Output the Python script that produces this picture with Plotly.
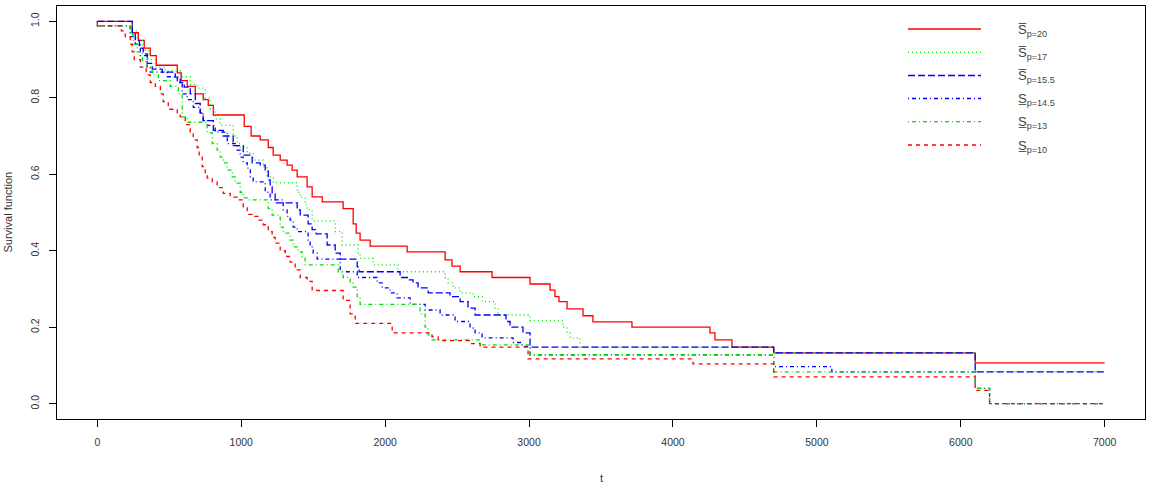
import plotly.graph_objects as go

# ---- data (time t, survival value after step) ----
t_p20 = [0, 243, 285, 326, 368, 410, 556, 583, 625, 681, 736, 771, 806, 1021, 1069, 1132, 1188, 1222, 1271, 1319, 1354, 1389, 1458, 1493, 1563, 1708, 1778, 1799, 1826, 1896, 2153, 2417, 2465, 2521, 2743, 3007, 3146, 3180, 3208, 3264, 3375, 3444, 3715, 4257, 4292, 4410, 4700, 6100, 7000]
s_p20 = [1.0, 0.97, 0.95, 0.93, 0.91, 0.885, 0.865, 0.845, 0.83, 0.81, 0.795, 0.78, 0.755, 0.725, 0.70, 0.69, 0.67, 0.65, 0.637, 0.624, 0.611, 0.593, 0.567, 0.541, 0.528, 0.51, 0.47, 0.446, 0.428, 0.412, 0.397, 0.376, 0.36, 0.345, 0.33, 0.313, 0.297, 0.28, 0.267, 0.248, 0.23, 0.214, 0.2, 0.185, 0.167, 0.148, 0.133, 0.107, 0.107]

t_p17 = [0, 243, 278, 313, 354, 403, 472, 576, 646, 694, 750, 785, 819, 854, 944, 972, 993, 1042, 1083, 1153, 1181, 1222, 1389, 1410, 1444, 1458, 1493, 1653, 1701, 1813, 1826, 1917, 2090, 2417, 2438, 2472, 2521, 2611, 2674, 2764, 2785, 3007, 3236, 3264, 3285, 3354, 4700, 6100, 7000]
s_p17 = [1.0, 0.975, 0.95, 0.925, 0.90, 0.88, 0.87, 0.855, 0.835, 0.825, 0.80, 0.77, 0.745, 0.728, 0.70, 0.68, 0.671, 0.655, 0.637, 0.619, 0.593, 0.578, 0.553, 0.54, 0.52, 0.507, 0.478, 0.45, 0.415, 0.394, 0.38, 0.363, 0.345, 0.33, 0.316, 0.303, 0.29, 0.28, 0.267, 0.25, 0.232, 0.217, 0.2, 0.185, 0.172, 0.148, 0.133, 0.083, 0.083]

t_p155 = [0, 243, 264, 292, 319, 347, 382, 451, 542, 576, 604, 646, 681, 715, 736, 806, 875, 944, 1014, 1076, 1132, 1167, 1188, 1201, 1215, 1236, 1389, 1410, 1465, 1493, 1521, 1597, 1653, 1688, 1806, 1819, 2104, 2160, 2194, 2229, 2299, 2451, 2521, 2576, 2625, 2840, 2868, 2958, 3007, 4700, 6100, 7000]
s_p155 = [1.0, 0.97, 0.95, 0.93, 0.915, 0.89, 0.875, 0.867, 0.854, 0.84, 0.828, 0.81, 0.785, 0.76, 0.74, 0.715, 0.70, 0.675, 0.65, 0.63, 0.624, 0.611, 0.585, 0.567, 0.551, 0.525, 0.507, 0.493, 0.47, 0.455, 0.444, 0.415, 0.394, 0.378, 0.358, 0.345, 0.33, 0.324, 0.316, 0.303, 0.29, 0.28, 0.267, 0.25, 0.232, 0.215, 0.2, 0.185, 0.148, 0.133, 0.083, 0.083]

t_p145 = [0, 0, 229, 264, 299, 347, 368, 486, 556, 590, 625, 667, 715, 736, 764, 819, 903, 972, 993, 1014, 1042, 1063, 1083, 1167, 1201, 1292, 1319, 1340, 1361, 1389, 1465, 1479, 1500, 1528, 1688, 1806, 1944, 1979, 2035, 2083, 2174, 2278, 2382, 2486, 2590, 2625, 2674, 2889, 2951, 3007, 4700, 5104, 6100, 6200, 7000]
s_p145 = [1.0, 0.988, 0.96, 0.94, 0.91, 0.88, 0.867, 0.855, 0.84, 0.81, 0.795, 0.775, 0.762, 0.74, 0.728, 0.71, 0.68, 0.663, 0.645, 0.63, 0.616, 0.593, 0.58, 0.553, 0.533, 0.507, 0.49, 0.48, 0.462, 0.45, 0.428, 0.41, 0.394, 0.378, 0.345, 0.33, 0.316, 0.303, 0.29, 0.277, 0.26, 0.245, 0.232, 0.215, 0.198, 0.185, 0.172, 0.16, 0.15, 0.128, 0.097, 0.083, 0.04, 0.0, 0.0]

t_p13 = [0, 0, 229, 250, 278, 313, 347, 382, 424, 507, 563, 590, 625, 764, 799, 833, 854, 875, 903, 938, 958, 993, 1014, 1042, 1188, 1215, 1271, 1292, 1340, 1361, 1396, 1424, 1444, 1674, 1708, 1757, 1778, 1806, 1826, 2243, 2278, 2299, 2326, 2660, 3007, 4700, 6100, 6200, 7000]
s_p13 = [1.0, 0.988, 0.965, 0.94, 0.92, 0.895, 0.88, 0.86, 0.845, 0.83, 0.81, 0.75, 0.736, 0.708, 0.68, 0.663, 0.645, 0.63, 0.611, 0.593, 0.577, 0.553, 0.538, 0.533, 0.51, 0.493, 0.462, 0.446, 0.428, 0.41, 0.397, 0.384, 0.363, 0.345, 0.33, 0.316, 0.305, 0.28, 0.26, 0.235, 0.2, 0.18, 0.167, 0.154, 0.128, 0.083, 0.04, 0.0, 0.0]

t_p10 = [0, 0, 167, 194, 229, 243, 257, 299, 340, 368, 403, 438, 458, 493, 556, 576, 611, 646, 667, 694, 708, 729, 750, 764, 799, 833, 875, 924, 972, 1014, 1042, 1076, 1118, 1153, 1188, 1215, 1236, 1271, 1306, 1340, 1375, 1410, 1458, 1493, 1708, 1757, 1792, 2049, 2326, 2368, 2590, 2660, 2993, 4139, 4700, 6100, 6200, 7000]
s_p10 = [1.0, 0.988, 0.975, 0.96, 0.94, 0.92, 0.90, 0.88, 0.86, 0.84, 0.83, 0.81, 0.79, 0.77, 0.76, 0.75, 0.73, 0.71, 0.69, 0.67, 0.65, 0.62, 0.60, 0.59, 0.58, 0.565, 0.55, 0.54, 0.533, 0.515, 0.495, 0.49, 0.48, 0.468, 0.45, 0.435, 0.42, 0.40, 0.385, 0.37, 0.35, 0.33, 0.32, 0.296, 0.27, 0.235, 0.21, 0.185, 0.175, 0.165, 0.157, 0.148, 0.117, 0.104, 0.07, 0.035, 0.0, 0.0]

x_ticks = [0, 1000, 2000, 3000, 4000, 5000, 6000, 7000]
y_ticks = [0.0, 0.2, 0.4, 0.6, 0.8, 1.0]
y_ticktext = ["0.0", "0.2", "0.4", "0.6", "0.8", "1.0"]

OV = "S\u0305"
UN = "S\u0332"
series = [
    (t_p20, s_p20, OV + "<sub>p=20</sub>", "#FF0000", "solid"),
    (t_p17, s_p17, OV + "<sub>p=17</sub>", "#00E000", "1px,3px"),
    (t_p155, s_p155, OV + "<sub>p=15.5</sub>", "#0000FF", "7px,3px"),
    (t_p145, s_p145, UN + "<sub>p=14.5</sub>", "#0000FF", "1px,3px,4px,3px"),
    (t_p13, s_p13, UN + "<sub>p=13</sub>", "#00E000", "1px,3px,4px,3px"),
    (t_p10, s_p10, UN + "<sub>p=10</sub>", "#FF0000", "4px,4px"),
]

fig = go.Figure()
for t, s, name, col, dash in series:
    fig.add_trace(go.Scatter(x=t, y=s, mode="lines", line_shape="hv", name=name,
                             line=dict(color=col, width=1.3, dash=dash)))

# manual legend (R-style, no box)
top_px, bot_px, left_px, right_px = 6.0, 419.0, 57.0, 1145.0
def px_x(p):
    return (p - left_px) / (right_px - left_px)
def px_y(p):
    return (bot_px - p) / (bot_px - top_px)

leg_y = [29, 52.3, 75.5, 98.5, 121.7, 145]
shapes = []
annotations = []
for (t, s, name, col, dash), ly in zip(series, leg_y):
    shapes.append(dict(type="line", xref="paper", yref="paper", x0=px_x(908), x1=px_x(981),
                       y0=px_y(ly), y1=px_y(ly), line=dict(color=col, width=1.3, dash=dash)))
    annotations.append(dict(xref="paper", yref="paper", x=px_x(1016), y=px_y(ly + 1),
                            text=name, showarrow=False, xanchor="left", yanchor="middle",
                            font=dict(family="Liberation Sans, Arial", size=13, color="#444")))

annotations.append(dict(xref="paper", yref="paper", x=0.5, y=px_y(478), text="t", showarrow=False,
                        xanchor="center", yanchor="middle",
                        font=dict(family="Liberation Sans, Arial", size=11, color="#333")))
annotations.append(dict(xref="paper", yref="paper", x=px_x(7), y=0.5, text="Survival function",
                        showarrow=False, textangle=-90, xanchor="center", yanchor="middle",
                        font=dict(family="Liberation Sans, Arial", size=11, color="#333")))

fig.update_layout(
    width=1152, height=494,
    margin=dict(l=57, r=7, t=6, b=75),
    paper_bgcolor="white", plot_bgcolor="white",
    showlegend=False,
    shapes=shapes, annotations=annotations,
    xaxis=dict(range=[-280, 7280], tickvals=x_ticks, ticks="outside", ticklen=7, tickcolor="black",
               showline=True, linecolor="black", linewidth=1, mirror=True, showgrid=False,
               zeroline=False, ticklabelstandoff=6,
               tickfont=dict(family="Liberation Sans, Arial", size=10.5, color="#333")),
    yaxis=dict(range=[-0.04, 1.04], tickvals=y_ticks, ticktext=y_ticktext, tickangle=-90,
               ticks="outside", ticklen=7, tickcolor="black",
               showline=True, linecolor="black", linewidth=1, mirror=True, showgrid=False,
               zeroline=False, ticklabelstandoff=6,
               tickfont=dict(family="Liberation Sans, Arial", size=10.5, color="#333")),
)

fig.write_html("out.html")
